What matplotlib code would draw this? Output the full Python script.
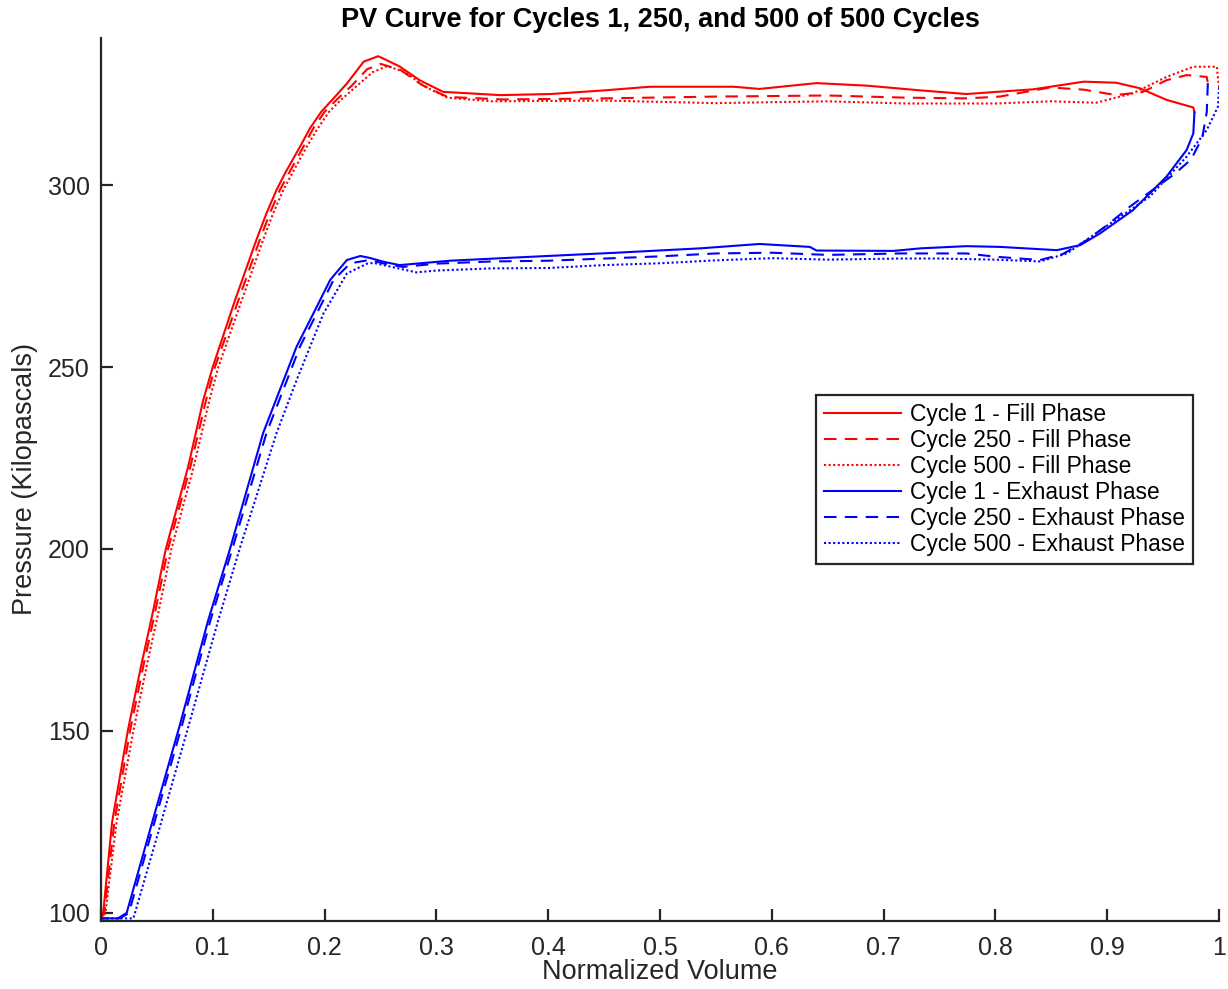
import matplotlib
matplotlib.use("Agg")
import matplotlib.pyplot as plt

plt.rcParams['font.family'] = ['Liberation Sans', 'DejaVu Sans']

# ------------------------------------------------------------
# data (normalized volume, kPa)
# ------------------------------------------------------------

# fill phase
fill1_x = [0.0, 0.002, 0.010, 0.024, 0.036, 0.046, 0.058, 0.078, 0.0915, 0.1,
           0.120, 0.139, 0.148, 0.157, 0.1646, 0.178, 0.187, 0.197, 0.208, 0.220,
           0.235, 0.248, 0.267, 0.285, 0.306, 0.357, 0.402, 0.450, 0.491, 0.566,
           0.589, 0.640, 0.685, 0.733, 0.774, 0.834, 0.879, 0.908, 0.929, 0.953,
           0.977, 0.978]
fill1_y = [98.5, 100.0, 125.0, 150.0, 168.0, 182.0, 200.0, 222.6, 240.9, 250.0,
           268.4, 284.9, 292.2, 298.6, 303.2, 310.5, 315.6, 320.1, 323.8, 327.9,
           333.9, 335.4, 332.6, 328.8, 325.6, 324.7, 325.0, 326.0, 327.0, 327.0,
           326.4, 328.0, 327.3, 326.0, 325.0, 326.3, 328.4, 328.1, 326.6, 323.4,
           321.3, 320.0]

fill250_x = [0.0, 0.003, 0.012, 0.026, 0.038, 0.048, 0.060, 0.080, 0.094, 0.102,
             0.123, 0.142, 0.151, 0.160, 0.168, 0.181, 0.190, 0.200, 0.211, 0.224,
             0.238, 0.250, 0.268, 0.287, 0.310, 0.360, 0.450, 0.550, 0.650, 0.720,
             0.774, 0.804, 0.849, 0.879, 0.908, 0.932, 0.953, 0.971, 0.989, 0.990]
fill250_y = [98.5, 100.0, 125.0, 150.0, 168.0, 182.0, 200.0, 222.6, 240.9, 250.0,
             268.4, 284.9, 292.2, 298.6, 303.2, 310.5, 315.6, 320.1, 323.5, 327.2,
             331.8, 333.3, 331.6, 327.5, 324.2, 323.5, 323.8, 324.3, 324.6, 324.0,
             323.8, 324.3, 326.8, 326.2, 324.7, 325.6, 328.8, 330.2, 329.7, 328.0]

fill500_x = [0.0, 0.004, 0.014, 0.029, 0.041, 0.051, 0.063, 0.083, 0.097, 0.105,
             0.126, 0.145, 0.154, 0.163, 0.171, 0.184, 0.194, 0.204, 0.215, 0.228,
             0.243, 0.256, 0.272, 0.290, 0.310, 0.350, 0.450, 0.550, 0.650, 0.720,
             0.800, 0.850, 0.890, 0.923, 0.953, 0.977, 0.998, 1.0]
fill500_y = [98.5, 100.0, 125.0, 150.0, 168.0, 182.0, 200.0, 222.6, 240.9, 250.0,
             268.4, 284.9, 292.2, 298.6, 303.2, 310.5, 315.6, 320.1, 323.5, 327.0,
             331.0, 332.7, 331.0, 327.0, 324.0, 323.0, 323.2, 322.5, 323.0, 322.4,
             322.4, 323.0, 322.6, 325.2, 329.7, 332.5, 332.5, 326.8]

# exhaust phase
exh1_x = [0.978, 0.977, 0.971, 0.953, 0.923, 0.894, 0.876, 0.855, 0.804, 0.774,
          0.733, 0.709, 0.640, 0.634, 0.589, 0.536, 0.461, 0.372, 0.312, 0.267,
          0.253, 0.240, 0.232, 0.220, 0.205, 0.190, 0.175, 0.160, 0.145, 0.1154,
          0.096, 0.070, 0.045, 0.023, 0.015, 0.0]
exh1_y = [320.0, 314.2, 309.6, 302.3, 293.1, 286.8, 283.5, 282.1, 283.0, 283.2,
          282.6, 281.9, 282.0, 283.0, 283.8, 282.6, 281.4, 280.1, 279.2, 278.0,
          278.9, 280.0, 280.5, 279.4, 273.9, 264.7, 255.6, 243.7, 231.8, 200.0,
          180.5, 151.0, 124.0, 100.0, 98.5, 98.5]

exh250_x = [0.990, 0.989, 0.985, 0.975, 0.960, 0.940, 0.920, 0.900, 0.880, 0.860,
            0.840, 0.800, 0.774, 0.715, 0.650, 0.600, 0.550, 0.500, 0.450, 0.400,
            0.350, 0.300, 0.270, 0.252, 0.240, 0.223, 0.208, 0.193, 0.178, 0.163,
            0.148, 0.1175, 0.098, 0.072, 0.047, 0.025, 0.017, 0.0]
exh250_y = [328.0, 320.0, 313.0, 307.0, 303.0, 298.5, 294.0, 289.0, 284.5, 281.0,
            279.4, 280.3, 281.2, 281.2, 280.8, 281.4, 281.2, 280.4, 279.8, 279.2,
            279.0, 278.4, 277.5, 278.5, 279.4, 278.5, 273.9, 264.7, 255.6, 243.7,
            231.8, 200.0, 180.5, 151.0, 124.0, 100.0, 98.5, 98.5]

exh500_x = [1.0, 0.999, 0.989, 0.971, 0.938, 0.894, 0.864, 0.840, 0.800, 0.750,
            0.715, 0.650, 0.600, 0.550, 0.500, 0.450, 0.400, 0.350, 0.300, 0.282,
            0.260, 0.244, 0.238, 0.220, 0.199, 0.175, 0.157, 0.124, 0.105, 0.078,
            0.053, 0.029, 0.022, 0.0]
exh500_y = [326.8, 321.5, 315.1, 307.8, 296.8, 287.6, 281.2, 279.0, 279.5, 279.8,
            279.8, 279.5, 279.9, 279.3, 278.5, 278.0, 277.2, 277.1, 276.5, 276.0,
            277.5, 278.6, 278.4, 275.7, 264.7, 246.4, 231.8, 200.0, 180.5, 151.0,
            124.0, 98.5, 98.5, 98.5]

xticks = [0, 0.1, 0.2, 0.3, 0.4, 0.5, 0.6, 0.7, 0.8, 0.9, 1]
xticklabels = ['0', '0.1', '0.2', '0.3', '0.4', '0.5', '0.6', '0.7', '0.8', '0.9', '1']
yticks = [100, 150, 200, 250, 300]

# ------------------------------------------------------------
# plot
# ------------------------------------------------------------

fig = plt.figure(figsize=(12.28, 9.89), dpi=100)
ax = fig.add_axes([0.0822, 0.0688, 0.9105, 0.8928])

lw = 1.5
dash = (0, (6, 4))
dot = (0, (1, 1.2))

ax.plot(fill1_x, fill1_y, color='#ff0000', lw=lw, ls='-', label='Cycle 1 - Fill Phase')
ax.plot(fill250_x, fill250_y, color='#ff0000', lw=lw, ls=dash, label='Cycle 250 - Fill Phase')
ax.plot(fill500_x, fill500_y, color='#ff0000', lw=lw, ls=dot, label='Cycle 500 - Fill Phase')
ax.plot(exh1_x, exh1_y, color='#0000ff', lw=lw, ls='-', label='Cycle 1 - Exhaust Phase')
ax.plot(exh250_x, exh250_y, color='#0000ff', lw=lw, ls=dash, label='Cycle 250 - Exhaust Phase')
ax.plot(exh500_x, exh500_y, color='#0000ff', lw=lw, ls=dot, label='Cycle 500 - Exhaust Phase')

ax.set_xlim(0, 1)
ax.set_ylim(97.8, 340.4)
ax.set_xticks(xticks)
ax.set_xticklabels(xticklabels)
ax.set_yticks(yticks)

for side in ['top', 'right']:
    ax.spines[side].set_visible(False)
for side in ['left', 'bottom']:
    ax.spines[side].set_linewidth(1.6)
    ax.spines[side].set_color('#262626')
ax.tick_params(direction='in', length=8.5, width=1.6, color='#262626',
               labelsize=18, labelcolor='#262626')
ax.tick_params(axis='x', pad=11)
ax.tick_params(axis='y', pad=8)

ax.set_xlabel('Normalized Volume', fontsize=19.5, color='#262626', labelpad=-1)
ax.set_ylabel('Pressure (Kilopascals)', fontsize=19.5, color='#262626', labelpad=7)
ax.set_title('PV Curve for Cycles 1, 250, and 500 of 500 Cycles',
             fontsize=19.5, fontweight='bold', pad=8)

leg = ax.legend(loc='upper left', bbox_to_anchor=(0.6395, 0.5957), borderaxespad=0,
                fontsize=16.4, handlelength=3.4, handletextpad=0.4, labelspacing=0.13,
                fancybox=False, framealpha=1, borderpad=0.35)
leg.get_frame().set_edgecolor('#262626')
leg.get_frame().set_linewidth(1.6)

fig.savefig('out.png', dpi=100)
